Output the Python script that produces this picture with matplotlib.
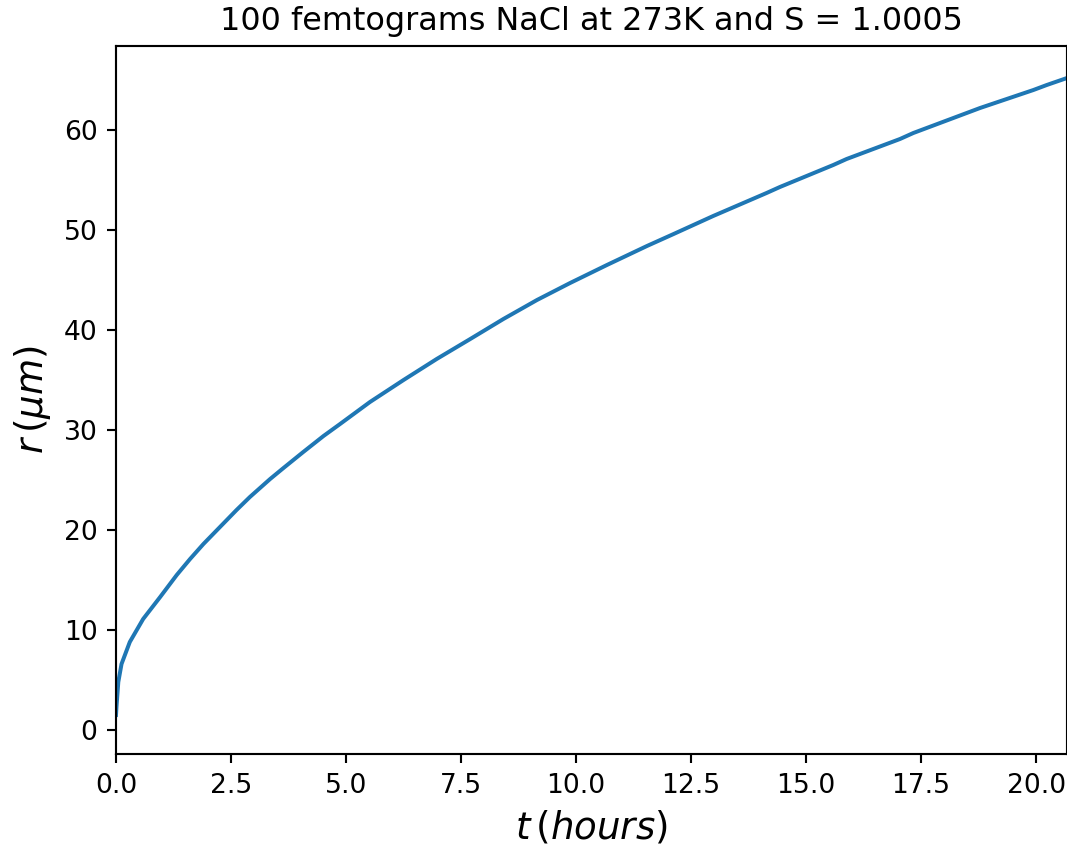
import matplotlib
matplotlib.use("Agg")
import matplotlib.pyplot as plt

# Time in hours and radius in micrometres
t_hours = [0.0, 0.01, 0.05, 0.12, 0.30, 0.59, 0.96, 1.32, 1.61, 1.90,
           2.26, 2.62, 2.91, 3.35, 3.64, 4.07, 4.51, 4.87, 5.52, 6.25,
           6.97, 7.70, 8.42, 9.15, 9.87, 10.67, 11.54, 12.12, 12.98, 14.14,
           14.43, 15.59, 15.88, 17.04, 17.33, 18.49, 18.78, 19.94, 20.23, 20.67]
r_um = [1.5, 2.3, 4.8, 6.6, 8.8, 11.1, 13.3, 15.5, 17.1, 18.6,
        20.3, 22.0, 23.3, 25.1, 26.2, 27.8, 29.4, 30.6, 32.8, 35.0,
        37.1, 39.1, 41.1, 43.0, 44.7, 46.5, 48.4, 49.6, 51.4, 53.7,
        54.3, 56.5, 57.1, 59.1, 59.7, 61.7, 62.2, 64.0, 64.5, 65.2]

title = "100 femtograms NaCl at 273K and S = 1.0005"
xlabel = r"$t\,(hours)$"
ylabel = r"$r\,(\mu m)$"

dpi = 191
fig = plt.figure(figsize=(1067 / dpi, 854 / dpi), dpi=dpi)
ax = fig.add_axes([116 / 1067, 100 / 854, 951 / 1067, 708 / 854])
ax.plot(t_hours, r_um, color="#1f77b4", lw=1.5)
ax.set_xlim(0, t_hours[-1])
ax.set_ylim(-2.4, 68.4)
ax.set_xticks([0, 2.5, 5, 7.5, 10, 12.5, 15, 17.5, 20])
ax.set_title(title, fontsize=12)
ax.set_xlabel(xlabel, fontsize=14)
ax.set_ylabel(ylabel, fontsize=14)
fig.savefig("out.png", dpi=dpi)
